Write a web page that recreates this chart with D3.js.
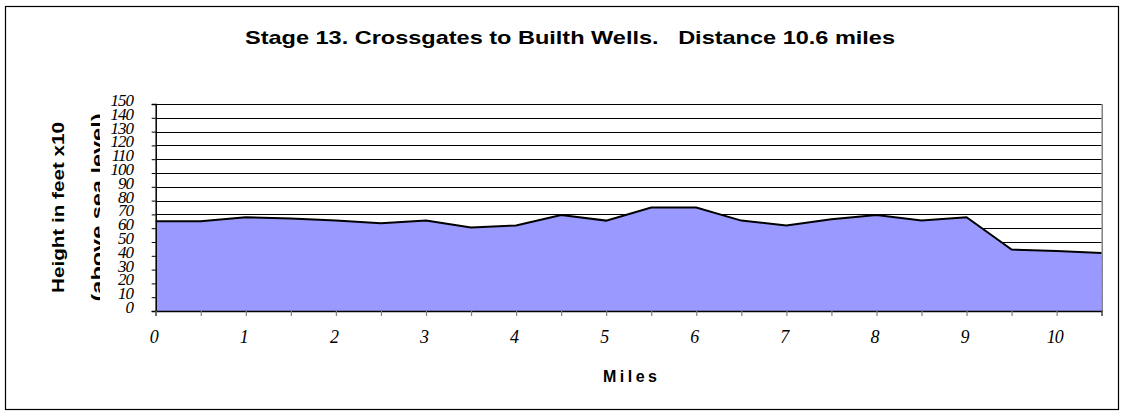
<!DOCTYPE html>
<html><head><meta charset="utf-8">
<script src="https://cdn.jsdelivr.net/npm/d3@7"></script>
<style>html,body{margin:0;padding:0;background:#fff;}svg{display:block;}</style>
</head><body>
<script>
const titleText = "Stage 13. Crossgates to Builth Wells.   Distance 10.6 miles";
const xTitle = "Miles";
const yTitle1 = "Height in feet x10";
const yTitle2 = "(above sea level)";
const miles = [0,0.5,1,1.5,2,2.5,3,3.5,4,4.5,5,5.5,6,6.5,7,7.5,8,8.5,9,9.5,10,10.5];
const heights = [65,65,68,67,65.5,63.5,65.5,60.5,62,69.5,65.5,75,75,65.5,62,66.5,69.5,65.5,68,44.5,43.5,42];
const yTicks = [0,10,20,30,40,50,60,70,80,90,100,110,120,130,140,150];
const xTicks = [0,0.5,1,1.5,2,2.5,3,3.5,4,4.5,5,5.5,6,6.5,7,7.5,8,8.5,9,9.5,10,10.5];
const xLabels = ["0","1","2","3","4","5","6","7","8","9","10"];

const W = 1125, H = 416;
const svg = d3.select("body").append("svg").attr("width", W).attr("height", H);

svg.append("rect").attr("x",5.5).attr("y",6.5).attr("width",1113).attr("height",403)
  .attr("fill","#fff").attr("stroke","#000").attr("stroke-width",1.2);

const x = d3.scaleLinear().domain([0,10.5]).range([155.7,1101.7]);
const y = d3.scaleLinear().domain([0,150]).range([311,104]);

// gridlines
svg.append("g").selectAll("line").data(yTicks.filter(d=>d>0)).join("line")
  .attr("x1",x(0)).attr("x2",x(10.5)).attr("y1",d=>Math.round(y(d))+0.5).attr("y2",d=>Math.round(y(d))+0.5)
  .attr("stroke","#000").attr("stroke-width",1);

// area
const data = miles.map((m,i)=>({m, h: heights[i]}));
svg.append("path").datum(data)
  .attr("d", d3.area().x(d=>x(d.m)).y0(y(0)).y1(d=>y(d.h)))
  .attr("fill","#9999ff");
svg.append("path").datum(data)
  .attr("d", d3.line().x(d=>x(d.m)).y(d=>y(d.h)))
  .attr("fill","none").attr("stroke","#000").attr("stroke-width",2);

// plot border right
svg.append("line").attr("x1",x(10.5)+0.5).attr("x2",x(10.5)+0.5).attr("y1",y(150)).attr("y2",y(0))
  .attr("stroke","#808080").attr("stroke-width",1.5);

// y axis
const yAxis = d3.axisLeft(y).tickValues(yTicks).tickSize(4).tickFormat("");
const gy = svg.append("g").attr("transform",`translate(${x(0)},0)`).call(yAxis);
gy.select(".domain").attr("stroke","#000").attr("stroke-width",1.5);
gy.selectAll(".tick line").attr("stroke","#000");

svg.append("g").selectAll("text").data(yTicks).join("text")
  .attr("x",133).attr("y",d=>y(d)+2)
  .attr("text-anchor","end")
  .attr("font-family","Liberation Serif").attr("font-style","italic").attr("font-size",17)
  .attr("letter-spacing",-1)
  .text(d=>d);

// x axis
const xAxis = d3.axisBottom(x).tickValues(xTicks).tickSize(5).tickFormat("");
const gx = svg.append("g").attr("transform",`translate(0,${y(0)})`).call(xAxis);
gx.select(".domain").attr("stroke","#000").attr("stroke-width",1.5);
gx.selectAll(".tick line").attr("stroke","#808080").attr("stroke-width",1.2);

svg.append("g").selectAll("text").data(xLabels).join("text")
  .attr("x",d=>x(+d)-2).attr("y",343)
  .attr("text-anchor","middle")
  .attr("font-family","Liberation Serif").attr("font-style","italic").attr("font-size",18)
  .attr("letter-spacing",-1)
  .text(d=>d);

// titles
svg.append("text").attr("x",570).attr("y",44).attr("text-anchor","middle")
  .style("white-space","pre")
  .attr("font-family","Liberation Sans, Arial").attr("font-weight","bold").attr("font-size",19)
  .attr("textLength",650).attr("lengthAdjust","spacingAndGlyphs")
  .text(titleText);

svg.append("text").attr("x",630).attr("y",382).attr("text-anchor","middle")
  .attr("font-family","Liberation Sans, Arial").attr("font-weight","bold").attr("font-size",16)
  .attr("textLength",54).attr("lengthAdjust","spacing")
  .text(xTitle);

svg.append("text").attr("transform","translate(64,207.5) rotate(-90)").attr("text-anchor","middle")
  .attr("font-family","Liberation Sans, Arial").attr("font-weight","bold").attr("font-size",17)
  .attr("textLength",171).attr("lengthAdjust","spacingAndGlyphs")
  .text(yTitle1);

svg.append("clipPath").attr("id","clipY2").append("rect").attr("x",80).attr("y",100).attr("width",20).attr("height",220);
svg.append("g").attr("clip-path","url(#clipY2)")
  .append("text")
  .attr("transform","translate(103,207.5) rotate(-90)").attr("text-anchor","middle")
  .attr("font-family","Liberation Sans, Arial").attr("font-weight","bold").attr("font-size",16)
  .attr("textLength",188).attr("lengthAdjust","spacingAndGlyphs")
  .text(yTitle2);
</script>
</body></html>
